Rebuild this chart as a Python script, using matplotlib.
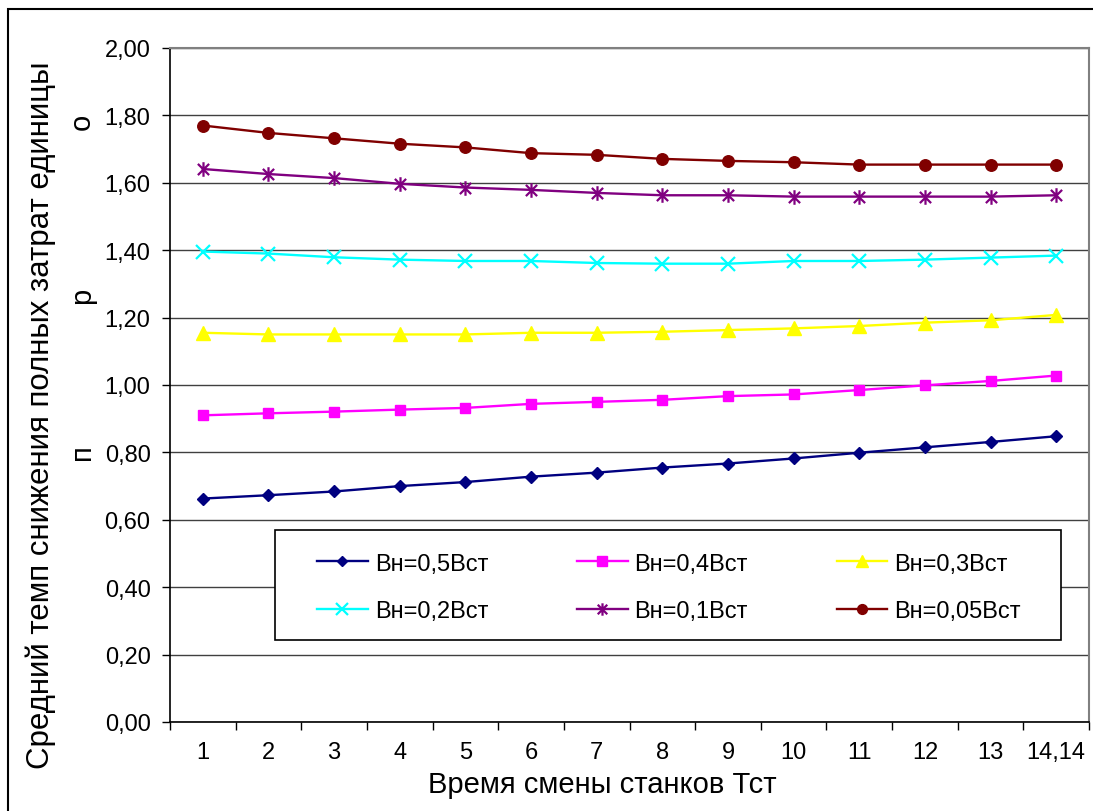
import matplotlib
matplotlib.use("Agg")
import matplotlib.pyplot as plt
from matplotlib.path import Path
from matplotlib.patches import Rectangle
from matplotlib.ticker import FixedLocator, NullFormatter, FuncFormatter

plt.rcParams['font.family'] = ['Liberation Sans', 'DejaVu Sans']

# ---- data ----
x_labels = ['1', '2', '3', '4', '5', '6', '7', '8', '9', '10', '11', '12', '13', '14,14']
series_names = ['Вн=0,5Вст', 'Вн=0,4Вст', 'Вн=0,3Вст', 'Вн=0,2Вст', 'Вн=0,1Вст', 'Вн=0,05Вст']
s05 = [0.663, 0.673, 0.684, 0.700, 0.712, 0.728, 0.740, 0.755, 0.767, 0.782, 0.799, 0.815, 0.831, 0.848]
s04 = [0.910, 0.916, 0.921, 0.927, 0.932, 0.944, 0.950, 0.956, 0.967, 0.972, 0.985, 0.999, 1.012, 1.028]
s03 = [1.155, 1.150, 1.150, 1.150, 1.150, 1.155, 1.155, 1.158, 1.163, 1.168, 1.175, 1.185, 1.192, 1.208]
s02 = [1.396, 1.390, 1.379, 1.372, 1.368, 1.368, 1.362, 1.360, 1.360, 1.368, 1.368, 1.372, 1.378, 1.384]
s01 = [1.641, 1.626, 1.614, 1.597, 1.586, 1.579, 1.570, 1.563, 1.563, 1.559, 1.559, 1.559, 1.559, 1.563]
s005 = [1.770, 1.748, 1.732, 1.716, 1.705, 1.688, 1.683, 1.671, 1.665, 1.661, 1.654, 1.654, 1.654, 1.654]
y_ticks = [0.0, 0.2, 0.4, 0.6, 0.8, 1.0, 1.2, 1.4, 1.6, 1.8, 2.0]

# asterisk marker (X plus vertical bar)
star = Path([(-1, -1), (1, 1), (-1, 1), (1, -1), (0, -1.3), (0, 1.3)],
            [Path.MOVETO, Path.LINETO, Path.MOVETO, Path.LINETO, Path.MOVETO, Path.LINETO])

styles = [
    dict(color='#000080', marker='D', ms=6.5),
    dict(color='#FF00FF', marker='s', ms=7.8),
    dict(color='#FFFF00', marker='^', ms=9.5),
    dict(color='#00FFFF', marker='x', ms=9.5, mew=1.6),
    dict(color='#800080', marker=star, ms=10.5, mew=1.6, mfc='none'),
    dict(color='#800000', marker='o', ms=8.3),
]

W, H = 1093, 812
fig = plt.figure(figsize=(W / 100, H / 100), dpi=100)
fig.patch.set_facecolor('white')

# outer chart border
fig.patches.append(Rectangle((8 / W, -0.1), 1.2, 1.1 - 10 / H, transform=fig.transFigure,
                             fill=False, edgecolor='black', lw=1.5, zorder=0))

L, R, T, B = 170, 1089, 49, 723
ax = fig.add_axes([L / W, 1 - B / H, (R - L) / W, (B - T) / H])
ax.set_facecolor('white')

xs = list(range(1, len(x_labels) + 1))
handles = []
for name, ys, st in zip(series_names, [s05, s04, s03, s02, s01, s005], styles):
    kw = dict(st)
    c = kw.pop('color')
    h, = ax.plot(xs, ys, color=c, lw=1.7, markeredgecolor=c,
                 markerfacecolor=kw.pop('mfc', c), label=name, clip_on=False, **kw)
    handles.append(h)

ax.set_xlim(0.5, len(x_labels) + 0.5)
ax.set_ylim(0, 2)
ax.set_yticks(y_ticks)
ax.yaxis.set_major_formatter(FuncFormatter(lambda v, p: f"{v:.2f}".replace('.', ',')))
ax.tick_params(axis='y', direction='out', length=6, width=1, labelsize=17, pad=8, colors='black')

ax.xaxis.set_major_locator(FixedLocator([i + 0.5 for i in range(0, len(x_labels) + 1)]))
ax.xaxis.set_major_formatter(NullFormatter())
ax.xaxis.set_minor_locator(FixedLocator(xs))
ax.set_xticklabels(x_labels, minor=True)
ax.tick_params(axis='x', which='major', direction='out', length=6, width=1)
ax.tick_params(axis='x', which='minor', length=0, labelsize=17, pad=14)

ax.yaxis.grid(True, color='#404040', lw=1.0)
ax.set_axisbelow(True)
for s in ['left', 'bottom']:
    ax.spines[s].set_color('black')
    ax.spines[s].set_linewidth(1.2)
for s in ['top', 'right']:
    ax.spines[s].set_color('#808080')
    ax.spines[s].set_linewidth(1.5)

# legend box
fig.patches.append(Rectangle((275 / W, 1 - 641 / H), (1061 - 275) / W, 110 / H,
                             transform=fig.transFigure, facecolor='white',
                             edgecolor='black', lw=1.2, zorder=3))
order = [0, 3, 1, 4, 2, 5]
leg = fig.legend([handles[i] for i in order], [series_names[i] for i in order],
                 loc='center left', bbox_to_anchor=(317 / W, 1 - 588.5 / H), ncol=3,
                 frameon=False, fontsize=17, handlelength=2.15, handletextpad=0.3,
                 columnspacing=3.75, labelspacing=1.1, borderpad=0, borderaxespad=0,
                 markerscale=0.85)
leg.set_zorder(4)

# axis titles
fig.text(41 / W, 1 - 415 / H, 'Средний темп снижения полных затрат единицы',
         rotation=90, ha='center', va='center', fontsize=22.5)
for ch, yp in [('о', 122), ('р', 296), ('п', 452)]:
    fig.text(82 / W, 1 - yp / H, ch, rotation=90, ha='center', va='center', fontsize=21)
fig.text(602 / W, 1 - 785 / H, 'Время смены станков Тст', ha='center', va='center', fontsize=21)

fig.savefig('out.png', dpi=100)
